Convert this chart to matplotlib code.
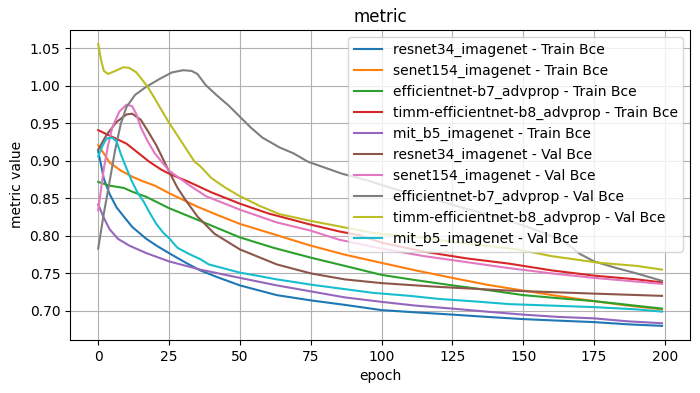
import matplotlib
matplotlib.use("Agg")
import matplotlib.pyplot as plt

# ---- data ----
resnet34_train_x = [0, 1, 2, 3, 4, 6.5, 9, 12, 17, 21, 25, 31, 36, 42, 50, 63, 75, 87, 100, 112, 125, 137, 150, 162, 175, 187, 199]
resnet34_train_y = [0.913, 0.895, 0.876, 0.866, 0.856, 0.838, 0.826, 0.812, 0.796, 0.786, 0.777, 0.764, 0.754, 0.745, 0.734, 0.721, 0.714, 0.708, 0.701, 0.698, 0.695, 0.692, 0.689, 0.687, 0.685, 0.682, 0.680]

senet154_train_x = [0, 2, 4, 8, 12, 15, 20, 25, 30, 35, 42, 50, 63, 75, 87, 100, 112, 125, 137, 150, 162, 175, 187, 199]
senet154_train_y = [0.921, 0.910, 0.898, 0.887, 0.879, 0.874, 0.867, 0.857, 0.848, 0.839, 0.828, 0.816, 0.801, 0.787, 0.775, 0.764, 0.754, 0.744, 0.735, 0.727, 0.720, 0.713, 0.707, 0.702]

effb7_train_x = [0, 4, 9, 12, 17, 25, 36, 50, 62, 75, 87, 100, 112, 125, 137, 150, 162, 175, 187, 199]
effb7_train_y = [0.872, 0.867, 0.864, 0.859, 0.852, 0.837, 0.820, 0.798, 0.784, 0.771, 0.760, 0.748, 0.741, 0.734, 0.728, 0.721, 0.717, 0.713, 0.708, 0.703]

timmb8_train_x = [0, 5, 10, 14, 18, 22, 25, 32, 40, 50, 60, 75, 85, 92, 100, 115, 130, 145, 160, 175, 190, 199]
timmb8_train_y = [0.941, 0.932, 0.923, 0.911, 0.899, 0.889, 0.883, 0.872, 0.858, 0.843, 0.830, 0.815, 0.806, 0.801, 0.791, 0.779, 0.770, 0.763, 0.754, 0.747, 0.742, 0.738]

mitb5_train_x = [0, 2, 4, 7, 11, 17, 25, 36, 50, 63, 75, 87, 100, 112, 125, 137, 150, 162, 175, 187, 199]
mitb5_train_y = [0.842, 0.824, 0.809, 0.796, 0.787, 0.777, 0.766, 0.755, 0.744, 0.734, 0.726, 0.718, 0.712, 0.707, 0.703, 0.699, 0.695, 0.692, 0.690, 0.686, 0.6835]

resnet34_val_x = [0, 3, 6.5, 10, 12, 15, 17.5, 20.5, 25, 28, 31, 35, 41, 50, 63, 75, 87, 100, 120, 145, 175, 199]
resnet34_val_y = [0.915, 0.935, 0.952, 0.962, 0.963, 0.955, 0.940, 0.921, 0.886, 0.864, 0.847, 0.826, 0.803, 0.782, 0.762, 0.750, 0.742, 0.737, 0.732, 0.727, 0.723, 0.720]

senet154_val_x = [0, 2, 3.5, 5, 7.5, 10, 12, 13.5, 15, 17.5, 20, 25, 32, 38, 50, 63, 75, 85, 100, 115, 130, 145, 160, 175, 190, 199]
senet154_val_y = [0.834, 0.890, 0.921, 0.945, 0.966, 0.975, 0.973, 0.962, 0.945, 0.926, 0.910, 0.887, 0.868, 0.853, 0.835, 0.818, 0.807, 0.795, 0.783, 0.773, 0.765, 0.757, 0.750, 0.744, 0.739, 0.736]

effb7_val_x = [0, 2, 4, 6, 8, 10, 13, 17, 22, 26, 30, 33, 35, 38, 42, 46, 50, 54, 58, 64, 69, 74, 80, 86, 95, 105, 120, 130, 141, 150, 158, 165, 170, 175, 183, 190, 199]
effb7_val_y = [0.783, 0.830, 0.872, 0.915, 0.950, 0.972, 0.988, 0.999, 1.010, 1.018, 1.021, 1.020, 1.016, 1.001, 0.987, 0.974, 0.959, 0.944, 0.931, 0.918, 0.910, 0.899, 0.891, 0.883, 0.874, 0.862, 0.847, 0.836, 0.825, 0.814, 0.803, 0.791, 0.776, 0.766, 0.757, 0.750, 0.740]

timmb8_val_x = [0, 1, 2, 3.5, 6, 9, 11, 13.5, 16, 17.6, 20, 22, 25, 29, 34, 36, 40, 45, 50, 57, 64, 75, 86, 97, 113, 130, 148, 160, 177, 190, 199]
timmb8_val_y = [1.056, 1.035, 1.020, 1.016, 1.020, 1.025, 1.024, 1.018, 1.006, 0.998, 0.983, 0.970, 0.951, 0.928, 0.899, 0.893, 0.877, 0.864, 0.853, 0.840, 0.829, 0.820, 0.812, 0.804, 0.798, 0.790, 0.782, 0.773, 0.764, 0.760, 0.755]

mitb5_val_x = [0, 1.5, 3, 5, 6.5, 8, 10, 12, 14, 16, 18, 20.5, 23, 25, 28, 32, 36, 39, 45, 50, 56, 63, 70, 75, 87, 97, 110, 120, 135, 145, 160, 175, 190, 199]
mitb5_val_y = [0.906, 0.920, 0.930, 0.931, 0.926, 0.909, 0.890, 0.872, 0.857, 0.846, 0.832, 0.816, 0.804, 0.797, 0.784, 0.776, 0.769, 0.762, 0.756, 0.751, 0.747, 0.742, 0.738, 0.735, 0.729, 0.724, 0.720, 0.716, 0.712, 0.709, 0.707, 0.705, 0.702, 0.699]

series = [
    ("resnet34_imagenet - Train Bce", resnet34_train_x, resnet34_train_y),
    ("senet154_imagenet - Train Bce", senet154_train_x, senet154_train_y),
    ("efficientnet-b7_advprop - Train Bce", effb7_train_x, effb7_train_y),
    ("timm-efficientnet-b8_advprop - Train Bce", timmb8_train_x, timmb8_train_y),
    ("mit_b5_imagenet - Train Bce", mitb5_train_x, mitb5_train_y),
    ("resnet34_imagenet - Val Bce", resnet34_val_x, resnet34_val_y),
    ("senet154_imagenet - Val Bce", senet154_val_x, senet154_val_y),
    ("efficientnet-b7_advprop - Val Bce", effb7_val_x, effb7_val_y),
    ("timm-efficientnet-b8_advprop - Val Bce", timmb8_val_x, timmb8_val_y),
    ("mit_b5_imagenet - Val Bce", mitb5_val_x, mitb5_val_y),
]

fig, ax = plt.subplots(figsize=(7, 3.93), dpi=100)
fig.subplots_adjust(left=0.1, right=0.986, top=0.924, bottom=0.135)

for label, xs, ys in series:
    ax.plot(xs, ys, label=label, linewidth=1.5)

ax.set_title("metric")
ax.set_xlabel("epoch")
ax.set_ylabel("metric value")
ax.set_xticks([0, 25, 50, 75, 100, 125, 150, 175, 200])
ax.grid(True)
ax.legend(loc="upper right")

fig.savefig("out.png", dpi=100)
